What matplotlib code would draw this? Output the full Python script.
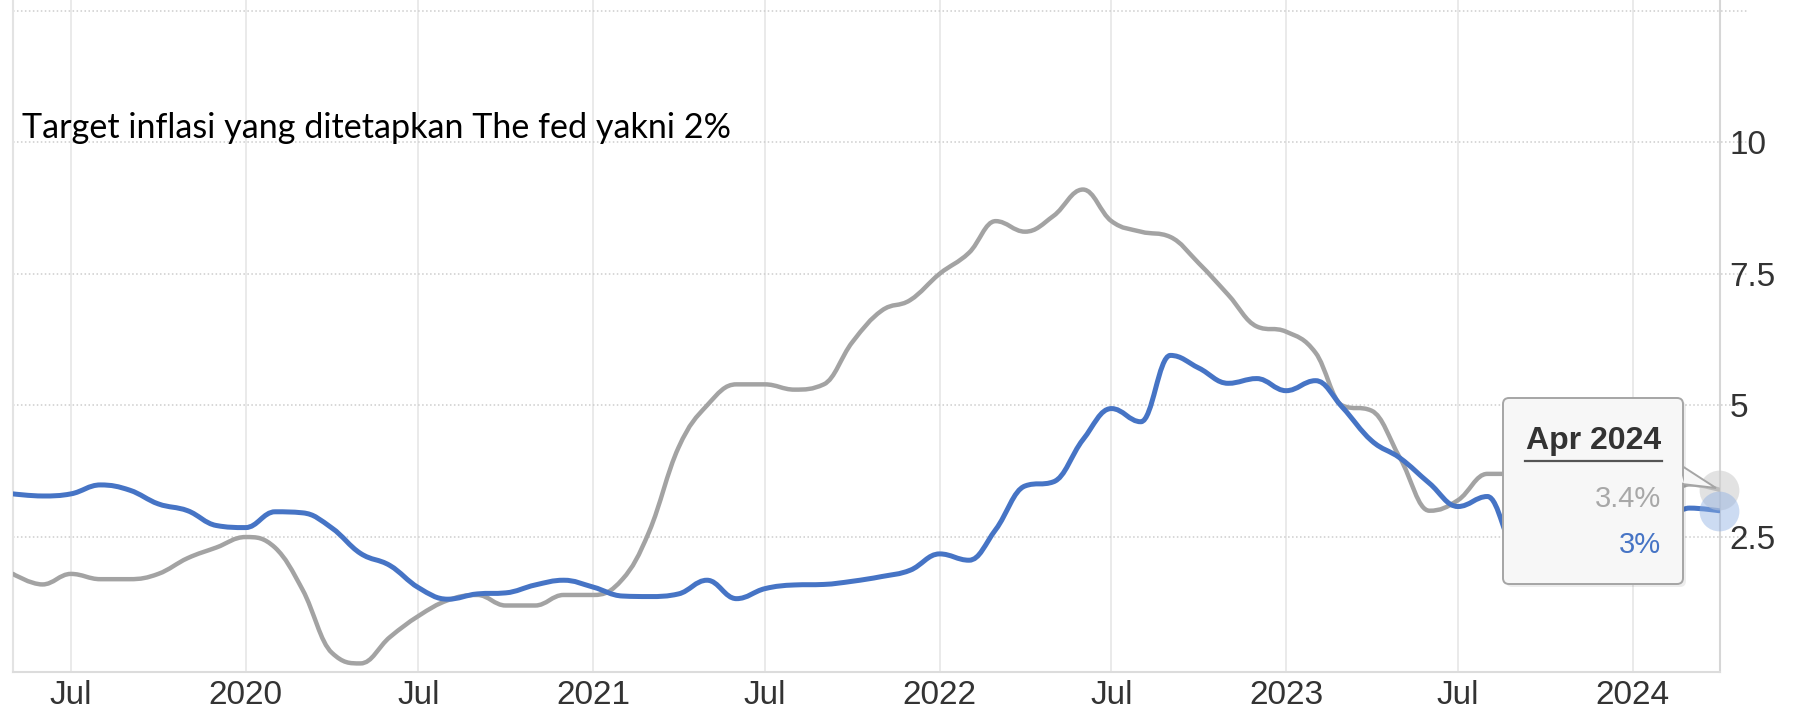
import numpy as np
import pandas as pd
import matplotlib
matplotlib.use("Agg")
import matplotlib.pyplot as plt
import matplotlib.dates as mdates
from matplotlib.path import Path
from matplotlib.patches import PathPatch, FancyBboxPatch, Polygon
from matplotlib.transforms import Affine2D

# monthly data, May 2019 .. Apr 2024
months = pd.date_range("2019-05-01", "2024-04-01", freq="MS")

grey_vals = [1.8, 1.6, 1.8, 1.7, 1.7, 1.8, 2.1, 2.3,
             2.5, 2.3, 1.5, 0.3, 0.1, 0.6, 1.0, 1.3, 1.4, 1.2, 1.2, 1.4,
             1.4, 1.7, 2.6, 4.2, 5.0, 5.4, 5.4, 5.3, 5.4, 6.2, 6.8, 7.0,
             7.5, 7.9, 8.5, 8.3, 8.6, 9.1, 8.5, 8.3, 8.2, 7.7, 7.1, 6.5,
             6.4, 6.0, 5.0, 4.9, 4.0, 3.0, 3.2, 3.7, 3.7, 3.2, 3.1, 3.4,
             3.1, 3.2, 3.5, 3.4]

blue_vals = [3.32, 3.28, 3.32, 3.49, 3.39, 3.13, 3.00, 2.72,
             2.68, 2.98, 2.96, 2.67, 2.19, 1.96, 1.54, 1.32, 1.42, 1.44, 1.59, 1.68,
             1.55, 1.38, 1.37, 1.42, 1.68, 1.33, 1.52, 1.59, 1.60, 1.66, 1.75, 1.87,
             2.18, 2.06, 2.64, 3.47, 3.55, 4.35, 4.94, 4.69, 5.95, 5.71, 5.42, 5.51,
             5.28, 5.47, 4.97, 4.33, 4.00, 3.52, 3.08, 3.27, 2.28, 2.56, 2.86, 2.61,
             2.57, 2.75, 3.05, 3.00]

tick_dates = pd.to_datetime(["2019-07-01", "2020-01-01", "2020-07-01", "2021-01-01",
                             "2021-07-01", "2022-01-01", "2022-07-01", "2023-01-01",
                             "2023-07-01", "2024-01-01"])
tick_labels = ["Jul", "2020", "Jul", "2021", "Jul", "2022", "Jul", "2023", "Jul", "2024"]

y_ticks = [2.5, 5, 7.5, 10]
y_labels = ["2.5", "5", "7.5", "10"]
grid_y = [2.5, 5, 7.5, 10, 12.5]

note_text = "Target inflasi yang ditetapkan The fed yakni 2%"
tip_title = "Apr 2024"
tip_grey = "3.4%"
tip_blue = "3%"

GREY = "#a3a3a3"
BLUE = "#4674c5"


def spline(x, y, smoothing=1.5):
    # smooth curve through every point (bezier segments)
    n = len(x)
    denom = smoothing + 1
    lc = [(x[i], y[i]) for i in range(n)]
    rc = [(x[i], y[i]) for i in range(n)]
    for i in range(1, n - 1):
        lx, ly, nx, ny = x[i - 1], y[i - 1], x[i + 1], y[i + 1]
        lcx = (smoothing * x[i] + lx) / denom
        lcy = (smoothing * y[i] + ly) / denom
        rcx = (smoothing * x[i] + nx) / denom
        rcy = (smoothing * y[i] + ny) / denom
        corr = (rcy - lcy) * (rcx - x[i]) / (rcx - lcx) + y[i] - rcy
        lcy += corr
        rcy += corr
        if lcy > max(ly, y[i]):
            lcy = max(ly, y[i]); rcy = 2 * y[i] - lcy
        elif lcy < min(ly, y[i]):
            lcy = min(ly, y[i]); rcy = 2 * y[i] - lcy
        if rcy > max(ny, y[i]):
            rcy = max(ny, y[i]); lcy = 2 * y[i] - rcy
        elif rcy < min(ny, y[i]):
            rcy = min(ny, y[i]); lcy = 2 * y[i] - rcy
        lc[i] = (lcx, lcy)
        rc[i] = (rcx, rcy)
    verts = [(x[0], y[0])]
    codes = [Path.MOVETO]
    for i in range(1, n):
        verts += [rc[i - 1], lc[i], (x[i], y[i])]
        codes += [Path.CURVE4] * 3
    return Path(verts, codes)


W, H = 1808, 712
fig = plt.figure(figsize=(W / 100, H / 100), dpi=100)
fig.patch.set_facecolor("white")
ax = fig.add_axes([13 / W, 1 - 672 / H, (1720 - 13) / W, 672 / H])
pix = Affine2D().scale(1, -1).translate(0, H)  # image pixels, y down

xd = mdates.date2num(months)
ax.set_xlim(xd[0], mdates.date2num(pd.Timestamp("2024-04-02")))
ax.set_ylim(-0.063, 12.7)

for d in tick_dates:
    ax.axvline(d, color="#e6e6e6", lw=1.2, zorder=0)
for g in grid_y:
    ax.axhline(g, xmax=1.016, color="#cdcdcd", lw=1.1, ls=(0, (1, 1.6)),
               clip_on=False, zorder=0)

ax.add_patch(PathPatch(spline(xd, grey_vals), fill=False, edgecolor=GREY,
                       lw=3.2, capstyle="round", joinstyle="round", zorder=3))
ax.add_patch(PathPatch(spline(xd, blue_vals), fill=False, edgecolor=BLUE,
                       lw=3.6, capstyle="round", joinstyle="round", zorder=4))

# hover halos on last point
ax.scatter([xd[-1]], [grey_vals[-1]], s=820, color="#cfcfcf", alpha=0.6,
           lw=0, clip_on=False, zorder=5)
ax.scatter([xd[-1]], [blue_vals[-1]], s=820, color="#8fb0e3", alpha=0.45,
           lw=0, clip_on=False, zorder=6)

ax.set_xticks(tick_dates)
ax.set_xticklabels(tick_labels)
ax.yaxis.tick_right()
ax.set_yticks(y_ticks)
ax.set_yticklabels(y_labels)
ax.tick_params(axis="both", length=0, labelsize=24, labelcolor="#333333")
ax.tick_params(axis="x", pad=6)
ax.tick_params(axis="y", pad=7)
for lab in ax.get_xticklabels() + ax.get_yticklabels():
    lab.set_fontfamily("Liberation Sans")

ax.spines["top"].set_visible(False)
ax.spines["left"].set_color("#e3e3e3")
ax.spines["right"].set_color("#d6d6d6")
ax.spines["bottom"].set_color("#dcdcdc")
for s in ["left", "right", "bottom"]:
    ax.spines[s].set_linewidth(1.5)

# tooltip
fig.patches.append(FancyBboxPatch((1506, 401), 180, 186, boxstyle="round,pad=0,rounding_size=6",
                                  transform=pix, facecolor="black", alpha=0.07, lw=0))
fig.patches.append(Polygon([(1682, 466), (1716, 488), (1682, 484)], closed=True,
                           transform=pix, facecolor="#f7f7f7", edgecolor="#a5a5a5", lw=1.4))
fig.patches.append(FancyBboxPatch((1503, 398), 180, 186, boxstyle="round,pad=0,rounding_size=6",
                                  transform=pix, facecolor="#f7f7f7", edgecolor="#a5a5a5", lw=1.4))
fig.patches.append(Polygon([(1680, 468), (1684, 483), (1680, 482)], closed=True,
                           transform=pix, facecolor="#f7f7f7", lw=0))
fig.text(1594, 449, tip_title, transform=pix, ha="center", va="baseline",
         fontsize=23, fontweight="bold", color="#333333", family="Liberation Sans")
fig.add_artist(plt.Line2D([1525, 1662], [461, 461], transform=pix, color="#555555", lw=1.6))
fig.text(1661, 507, tip_grey, transform=pix, ha="right", va="baseline",
         fontsize=21, color="#a8a8a8", family="Liberation Sans")
fig.text(1661, 553, tip_blue, transform=pix, ha="right", va="baseline",
         fontsize=21, color=BLUE, family="Liberation Sans")

fig.text(22, 138, note_text, transform=pix, ha="left", va="baseline",
         fontsize=24.6, color="black", family="Lato")

fig.savefig("out.png", dpi=100)
